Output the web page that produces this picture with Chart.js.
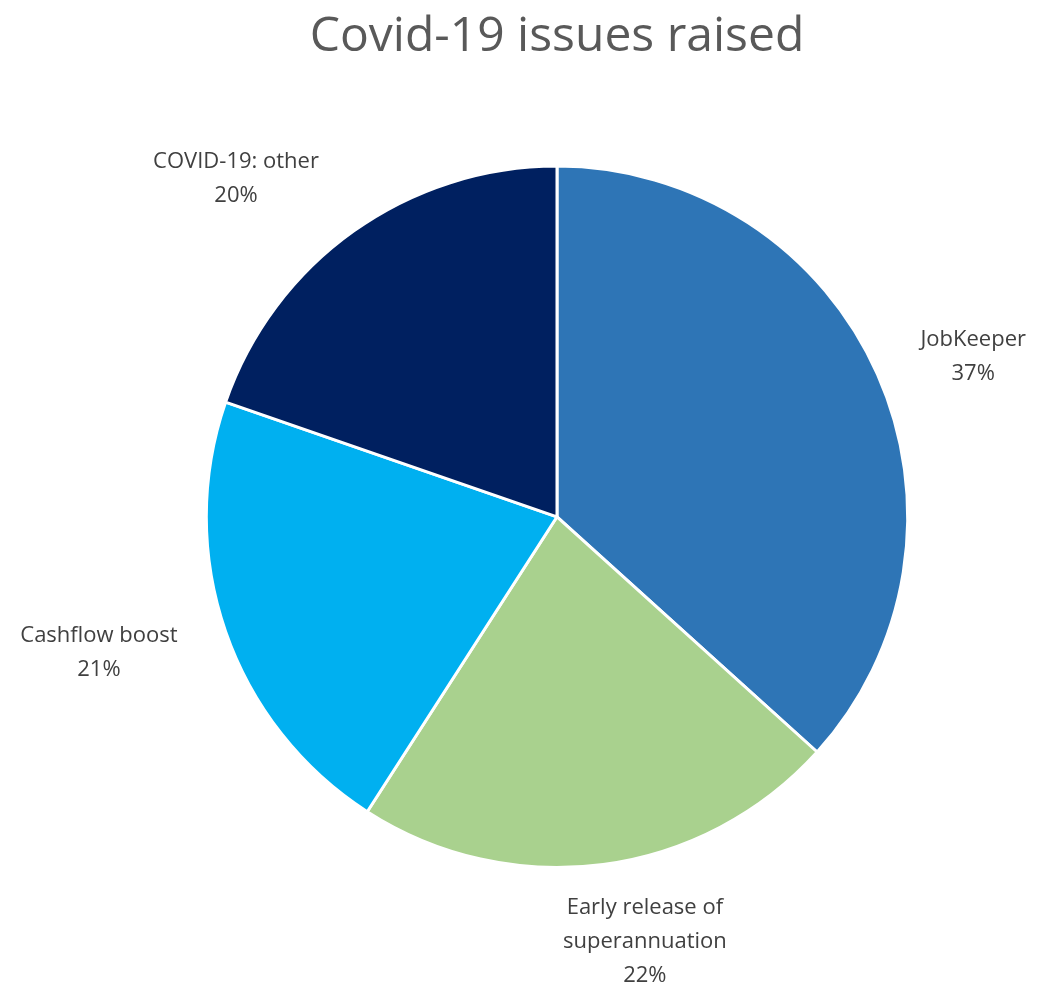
<!DOCTYPE html>
<html>
<head>
<meta charset="utf-8">
<script src="https://cdn.jsdelivr.net/npm/chart.js@4"></script>
<style>
  html, body { margin: 0; padding: 0; background: #fff; }
  #wrap { width: 1037px; height: 988px; }
</style>
</head>
<body>
<div id="wrap"><canvas id="pie"></canvas></div>
<script>
  // ------------- Dados -------------
  const labels = ['JobKeeper', 'Early release of\nsuperannuation', 'Cashflow boost', 'COVID-19: other'];
  const values = [36.7, 22.4, 21.2, 19.7];
  const colors = ['#2E75B6', '#A9D18E', '#00B0F0', '#002060'];

  // ajuste fino dos rótulos (px), mesma ordem das fatias
  const labelNudge = [[20, 8], [27, -3], [-24, 0], [-52, 0]];

  const FONT = '"Open Sans", "Liberation Sans", sans-serif';

  // rótulos fora da fatia (estilo Excel "outside end")
  const outsideLabels = {
    id: 'outsideLabels',
    afterDatasetsDraw(chart) {
      const ctx = chart.ctx;
      const meta = chart.getDatasetMeta(0);
      const total = values.reduce((a, b) => a + b, 0);
      ctx.save();
      ctx.font = `22px ${FONT}`;
      ctx.fillStyle = '#404040';
      ctx.textAlign = 'center';
      ctx.textBaseline = 'middle';
      const lh = 34;
      meta.data.forEach((arc, i) => {
        const { x, y, startAngle, endAngle, outerRadius } = arc.getProps(['x', 'y', 'startAngle', 'endAngle', 'outerRadius'], true);
        const mid = (startAngle + endAngle) / 2;
        const lines = labels[i].split('\n').concat(Math.round(values[i] / total * 100) + '%');
        const w = Math.max(...lines.map(l => ctx.measureText(l).width));
        const h = lines.length * lh;
        const gap = 30;
        const ax = x + Math.cos(mid) * (outerRadius + gap);
        const ay = y + Math.sin(mid) * (outerRadius + gap);
        const cx = ax + Math.cos(mid) * w / 2 + labelNudge[i][0];
        const cy = ay + Math.sin(mid) * h / 2 + labelNudge[i][1];
        lines.forEach((l, k) => {
          ctx.fillText(l, cx, cy - h / 2 + lh / 2 + k * lh);
        });
      });
      ctx.restore();
    }
  };

  new Chart(document.getElementById('pie'), {
    type: 'pie',
    data: {
      labels: labels,
      datasets: [{
        data: values,
        backgroundColor: colors,
        borderColor: '#ffffff',
        borderWidth: 3
      }]
    },
    options: {
      animation: false,
      responsive: true,
      maintainAspectRatio: false,
      layout: { padding: { top: 0, bottom: 119, left: 166, right: 89 } },
      plugins: {
        legend: { display: false },
        tooltip: { enabled: false },
        title: {
          display: true,
          text: 'Covid-19 issues raised',
          color: '#595959',
          font: { family: FONT, size: 48, weight: 'normal', lineHeight: 1.2 },
          padding: { top: 9, bottom: 98 }
        }
      }
    },
    plugins: [outsideLabels]
  });
</script>
</body>
</html>
